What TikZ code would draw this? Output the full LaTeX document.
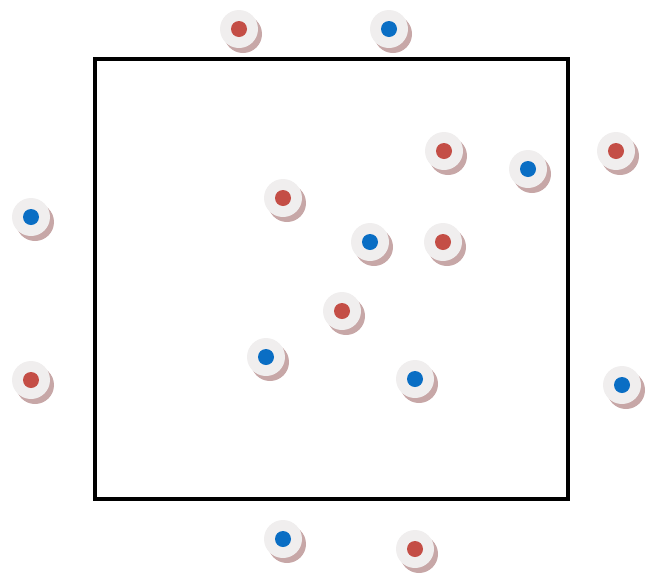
\documentclass[tikz,border=0pt]{standalone}
\usepackage{tikz}
\usetikzlibrary{shadows}
\definecolor{redcore}{RGB}{196,78,70}
\definecolor{bluecore}{RGB}{10,110,196}
\definecolor{discgray}{RGB}{240,238,238}
\definecolor{shadowrose}{RGB}{185,145,145}

\begin{document}
\begin{tikzpicture}[x=1pt, y=-1pt,
	disc/.style={circle, minimum size=38pt, inner sep=0pt, fill=discgray,
		drop shadow={shadow xshift=4pt, shadow yshift=-5pt, fill=shadowrose, opacity=0.8}}]
	\useasboundingbox (0,0) rectangle (654,579);
	\draw[line width=3.5pt] (95,59) rectangle (568,499);
	% red particles
	\foreach \x/\y [count=\i] in {239/29, 444/151, 616/151, 283/198, 443/242, 342/311, 31/380, 415/549} {
		\node[disc] (r\i) at (\x,\y) {};
		\fill[redcore] (r\i) circle (8pt);
	}
	% blue particles
	\foreach \x/\y [count=\i] in {389/29, 528/169, 31/217, 370/242, 266/357, 415/379, 622/385, 283/539} {
		\node[disc] (b\i) at (\x,\y) {};
		\fill[bluecore] (b\i) circle (8pt);
	}
\end{tikzpicture}
\end{document}
